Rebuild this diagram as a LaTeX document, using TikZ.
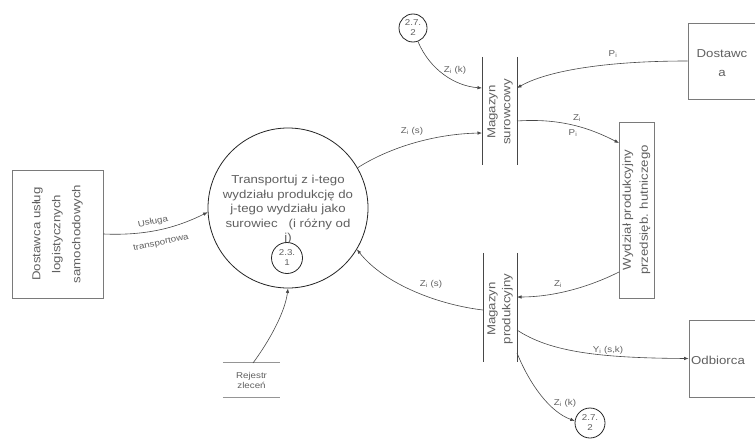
\documentclass[tikz,border=0pt]{standalone}
\usepackage{fontspec}
\setmainfont{Liberation Sans}[FakeStretch=1.15]
\usetikzlibrary{arrows.meta}
\definecolor{linec}{HTML}{474747}
\definecolor{boxc}{HTML}{7A7A7A}
\definecolor{txtc}{HTML}{606060}
\newcommand{\fntA}{\fontsize{11.5}{14.5}\selectfont}
\newcommand{\fntL}{\fontsize{11.5}{20}\selectfont}
\newcommand{\fntM}{\fontsize{11.5}{16}\selectfont}
\newcommand{\fntS}{\fontsize{8.5}{10}\selectfont}
\begin{document}
\begin{tikzpicture}[x=1pt,y=-1pt,
  flow/.style={draw=linec, line width=0.6pt, -{Latex[length=4.5pt,width=3.5pt]}},
  plain/.style={draw=linec, line width=0.6pt},
  boxline/.style={draw=boxc, line width=0.9pt},
  frame/.style={boxline, inner sep=0pt},
  bigtext/.style={text=txtc, align=center, inner sep=0pt},
  lab/.style={text=txtc, font=\fntS, inner sep=0pt},
  smallproc/.style={circle, draw=black!85, line width=0.8pt, fill=white, inner sep=0pt, align=center, text=txtc, font=\fontsize{8.5}{10}\selectfont},
  store/.style={inner sep=0pt}
]
\useasboundingbox (0,0) rectangle (755,439);
\clip (0,0) rectangle (755,439);
\fill[white] (0,0) rectangle (755,439);

% external entities
\node[frame, minimum width=91pt, minimum height=128pt] (dlog) at (57.5,234) {};
\node[bigtext, rotate=90, font=\fntL] (dlogt) at (dlog.center) {Dostawca usług\\logistycznych\\samochodowych};

\node[frame, minimum width=92pt, minimum height=76pt] (dost) at (734,61) {};
\node[bigtext, font=\fontsize{11.5}{19}\selectfont] (dostt) at (722,63) {Dostawc\\a};

\node[frame, minimum width=92pt, minimum height=77pt] (odb) at (735,358.5) {};
\node[bigtext, font=\fntA, anchor=west] (odbt) at (691,360) {Odbiorca};

% process
\node[circle, draw=black!85, line width=0.8pt, minimum size=160pt, inner sep=0pt] (proc) at (288,208) {};
\node[bigtext, font=\fntA] (proct) at (288,210) {Transportuj z i-tego\\wydziału produkcję do\\j-tego wydziału jako\\surowiec\ \ \ (i różny od\\j)};
\node[smallproc, minimum size=31pt] (p231) at (287,258) {2.3.\\1};

% department box
\node[frame, minimum width=35pt, minimum height=176pt] (wyd) at (636.5,210) {};
\node[bigtext, rotate=90, font=\fontsize{11.5}{17}\selectfont] (wydt) at (wyd.center) {Wydział produkcyjny\\przedsięb. hutniczego};

% stores
\node[store, minimum width=35pt, minimum height=108pt] (ms) at (499.5,111) {};
\draw[plain] (ms.north west) -- (ms.south west) (ms.north east) -- (ms.south east);
\node[bigtext, rotate=90, font=\fontsize{11.5}{15}\selectfont] (mst) at (500,112) {Magazyn\\surowcowy};

\node[store, minimum width=34pt, minimum height=109pt] (mp) at (500,307.5) {};
\draw[plain] (mp.north west) -- (mp.south west) (mp.north east) -- (mp.south east);
\node[bigtext, rotate=90, font=\fontsize{11.5}{15}\selectfont] (mpt) at (500,309) {Magazyn\\produkcyjny};

\node[store, minimum width=57pt, minimum height=34pt, text=txtc, align=center, font=\fntS] (rej) at (251.5,380) {Rejestr\\zleceń};
\draw[boxline, draw=boxc!80] (rej.north west) -- (rej.north east) (rej.south west) -- (rej.south east);

% other process references
\node[smallproc, minimum size=28pt] (t272) at (413,28) {2.7.\\2};
\node[smallproc, minimum size=30pt] (b272) at (590,423) {2.7.\\2};

% attach points on stores
\coordinate (msA) at (482,133);
\coordinate (msB) at (482,88);
\coordinate (msC) at (517,88);
\coordinate (msD) at (517,121);
\coordinate (mpA) at (517,297);
\coordinate (mpB) at (483,310);
\coordinate (mpC) at (517,330);
\coordinate (mpD) at (517,353);
\coordinate (wydA) at (619,143);
\coordinate (wydB) at (619,272);
\coordinate (rejA) at (253,363);

% flows
\draw[flow] (dlog.east) .. controls (150,236) and (180,226) .. (proc.183);
\node[lab, rotate=12] (l1a) at (153,222) {Usługa};
\node[lab, rotate=12] (l1b) at (161,243) {transportowa};

\draw[flow] (proc.30) .. controls (385,150) and (430,134) .. (msA);
\node[lab] (l2) at (412,131) {Z\textsubscript{i} (s)};

\draw[flow] (t272.-70) .. controls (430,70) and (455,86) .. (msB);
\node[lab] (l3) at (455,70) {Z\textsubscript{i} (k)};

\draw[flow] (dost.west) .. controls (600,61) and (545,72) .. (msC);
\node[lab] (l4) at (613,54) {P\textsubscript{i}};

\draw[flow] (msD) .. controls (560,118) and (590,128) .. (wydA);
\node[lab] (l5a) at (577,118) {Z\textsubscript{i}};
\node[lab] (l5b) at (573,133) {P\textsubscript{i}};

\draw[flow] (wydB) .. controls (585,289) and (550,297) .. (mpA);
\node[lab] (l6) at (558,284) {Z\textsubscript{i}};

\draw[flow] (mpB) .. controls (440,305) and (385,285) .. (proc.-31);
\node[lab] (l7) at (431,284) {Z\textsubscript{i} (s)};

\draw[flow] (mpC) .. controls (550,352) and (600,358) .. (odb.west);
\node[lab] (l8) at (608,350) {Y\textsubscript{i} (s,k)};

\draw[flow] (mpD) .. controls (530,385) and (550,412) .. (b272.172);
\node[lab] (l9) at (565,403) {Z\textsubscript{i} (k)};

\draw[flow] (rejA) .. controls (270,340) and (285,312) .. (proc.south);
\end{tikzpicture}
\end{document}
